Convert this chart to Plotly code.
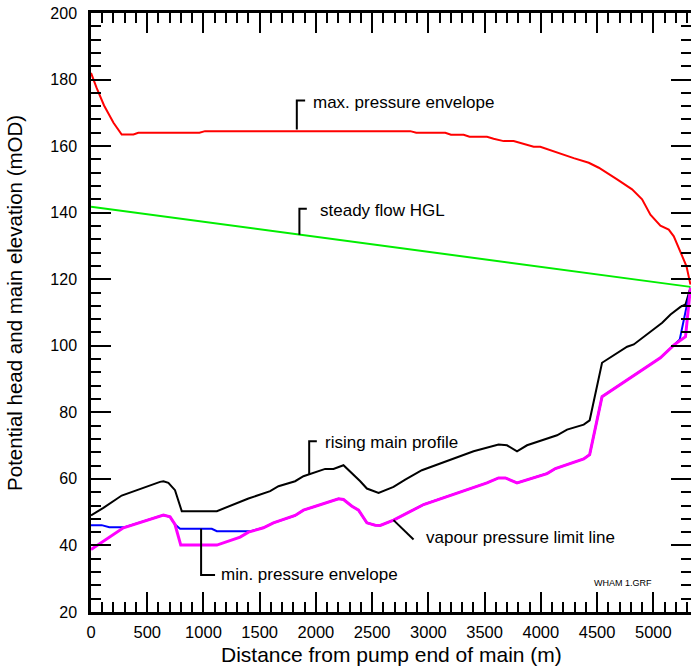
import plotly.graph_objects as go

# ---------------- data ----------------
max_x = [0, 50, 116, 200, 273, 377, 421, 964, 1014, 2839, 2892, 3150, 3201, 3313, 3366, 3521,
         3580, 3669, 3758, 3841, 3936, 3995, 4114, 4292, 4426, 4515, 4678, 4811, 4900, 4974,
         5063, 5137, 5182, 5241, 5295, 5330]
max_y = [182.0, 177.5, 172.2, 167.0, 163.5, 163.5, 164.0, 164.0, 164.5, 164.5, 164.0, 164.0, 163.4,
         163.4, 162.8, 162.8, 162.2, 161.5, 161.5, 160.8, 159.8, 159.8, 158.4, 156.4, 155.0,
         153.5, 150.0, 147.0, 144.0, 139.4, 136.1, 134.9, 132.9, 127.9, 123.9, 118.4]

hgl_x = [0, 5330]
hgl_y = [141.8, 117.7]

main_x = [0, 110, 273, 377, 495, 614, 644, 688, 747, 807, 1119, 1297, 1400, 1593, 1667, 1815,
          1889, 2082, 2156, 2245, 2320, 2394, 2453, 2557, 2690, 2794, 2942, 3165, 3402, 3624,
          3699, 3788, 3877, 4144, 4233, 4381, 4434, 4544, 4767, 4826, 4945, 5079, 5153, 5241,
          5286, 5330]
main_y = [49.0, 51.3, 55.0, 56.3, 57.8, 59.1, 59.3, 58.8, 56.6, 50.3, 50.3, 52.6, 54.1, 56.3,
          57.8, 59.3, 60.8, 63.0, 63.0, 64.1, 61.8, 59.3, 57.1, 55.8, 57.6, 59.8, 62.6, 65.3,
          68.3, 70.3, 70.1, 68.3, 70.1, 73.1, 74.8, 76.3, 77.6, 94.9, 99.7, 100.4, 103.4,
          106.9, 109.4, 111.7, 112.4, 117.4]

vap_x = [0, 288, 644, 703, 747, 798, 1119, 1326, 1400, 1533, 1622, 1815, 1889, 2201, 2245, 2320,
         2379, 2453, 2527, 2572, 2690, 2839, 2958, 3521, 3624, 3684, 3788, 4055, 4129, 4381,
         4434, 4544, 5063, 5182, 5286, 5330]
vap_y = [38.8, 45.3, 49.1, 48.6, 46.3, 40.1, 40.1, 42.5, 44.0, 45.3, 46.8, 49.0, 50.6, 54.0,
         53.8, 51.8, 50.6, 46.8, 46.1, 46.0, 47.6, 50.3, 52.3, 58.8, 60.3, 60.3, 58.8, 61.6,
         63.1, 66.0, 67.3, 84.7, 96.4, 100.2, 102.7, 117.4]

min_x = [0, 95, 163, 300, 644, 703, 747, 792, 1074, 1119, 1420, 1533, 1622, 1815, 1889, 2201,
         2245, 2320, 2379, 2453, 2527, 2572, 2690, 2839, 2958, 3521, 3624, 3684, 3788, 4055,
         4129, 4381, 4434, 4544, 5063, 5182, 5235, 5330]
min_y = [46.1, 46.1, 45.5, 45.5, 49.1, 48.6, 46.3, 45.0, 45.0, 44.3, 44.3, 45.3, 46.8, 49.0,
         50.6, 54.0, 53.8, 51.8, 50.6, 46.8, 46.1, 46.0, 47.6, 50.3, 52.3, 58.8, 60.3, 60.3,
         58.8, 61.6, 63.1, 66.0, 67.3, 84.7, 96.4, 100.2, 101.9, 117.4]

x_tick_step, x_minor_step = 500, 100
y_tick_step, y_minor_step = 20, 4

x_title = "Distance from pump end of main (m)"
y_title = "Potential head and main elevation (mOD)"

# labels: text, text anchor (x, y), leader polyline (xs, ys)
labels = [
    ("max. pressure envelope", 1958, 173.2, [1830, 1830, 1904], [165.0, 173.7, 173.7]),
    ("steady flow HGL", 2014, 140.8, [1853, 1853, 1919], [133.4, 141.2, 141.2]),
    ("rising main profile", 2067, 70.9, [1940, 1940, 2008], [61.2, 71.3, 71.3]),
    ("min. pressure envelope", 1142, 31.2, [979, 979, 1103], [45.0, 31.1, 31.1]),
    ("vapour pressure limit line", 2957, 42.3, [2690, 2868], [47.6, 41.8]),
]

FONT = "Liberation Sans, Arial, sans-serif"

fig = go.Figure()
fig.add_trace(go.Scatter(x=hgl_x, y=hgl_y, mode="lines", line=dict(color="#00ee00", width=2)))
fig.add_trace(go.Scatter(x=max_x, y=max_y, mode="lines", line=dict(color="#ff0000", width=2)))
fig.add_trace(go.Scatter(x=main_x, y=main_y, mode="lines", line=dict(color="#000000", width=2)))
fig.add_trace(go.Scatter(x=min_x, y=min_y, mode="lines", line=dict(color="#0000ff", width=2)))
fig.add_trace(go.Scatter(x=vap_x, y=vap_y, mode="lines", line=dict(color="#ff00ff", width=3)))

for text, tx, ty, lx, ly in labels:
    fig.add_trace(go.Scatter(x=lx, y=ly, mode="lines", line=dict(color="black", width=2)))
    fig.add_annotation(x=tx, y=ty, text=text, showarrow=False, xanchor="left", yanchor="middle",
                       font=dict(family=FONT, size=17, color="black"))

fig.add_annotation(x=4734, y=28.6, text="WHAM 1.GRF", showarrow=False, xanchor="center",
                   yanchor="middle", font=dict(family=FONT, size=9, color="black"))

# axis titles
fig.add_annotation(xref="paper", yref="paper", x=0.5, y=0, yshift=-42.5, text=x_title,
                   showarrow=False, xanchor="center", yanchor="middle",
                   font=dict(family=FONT, size=21, color="black"))
fig.add_annotation(xref="paper", yref="paper", x=0, y=0.516, xshift=-76, text=y_title,
                   textangle=-90, showarrow=False, xanchor="center", yanchor="middle",
                   font=dict(family=FONT, size=20.5, color="black"))

fig.update_xaxes(range=[0, 5335], tickmode="linear", tick0=0, dtick=x_tick_step,
                 ticks="inside", ticklen=20, tickwidth=2, tickcolor="black",
                 showline=True, linecolor="black", linewidth=2.5, mirror="allticks",
                 minor=dict(dtick=x_minor_step, ticks="inside", ticklen=10, tickwidth=2,
                            tickcolor="black"),
                 showgrid=False, zeroline=False, automargin=False,
                 tickfont=dict(family=FONT, size=16.5, color="black"), ticklabelstandoff=3)
fig.update_yaxes(range=[20, 200], tickmode="linear", tick0=0, dtick=y_tick_step,
                 ticks="inside", ticklen=20, tickwidth=2, tickcolor="black",
                 showline=True, linecolor="black", linewidth=2.5, mirror="allticks",
                 minor=dict(dtick=y_minor_step, ticks="inside", ticklen=10, tickwidth=2,
                            tickcolor="black"),
                 showgrid=False, zeroline=False, automargin=False,
                 tickfont=dict(family=FONT, size=16, color="black"), ticklabelstandoff=8)

fig.update_layout(width=691, height=666, showlegend=False,
                  margin=dict(l=91, r=0, t=13, b=54),
                  paper_bgcolor="white", plot_bgcolor="white")

fig.write_html("out.html", config={"displayModeBar": False},
               post_script="document.body.style.margin='0';document.body.style.overflow='hidden';")
